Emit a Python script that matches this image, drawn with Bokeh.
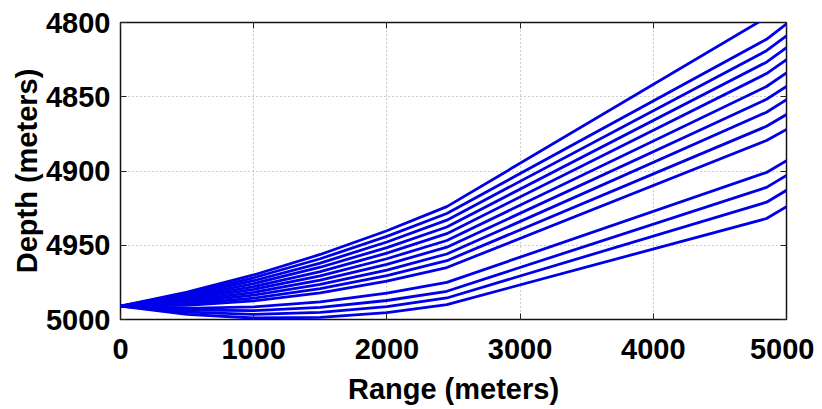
from bokeh.plotting import figure
from bokeh.models import Range1d, FixedTicker, LinearAxis, ColumnDataSource
from bokeh.embed import file_html
from bokeh.resources import INLINE

# Range samples (meters)
ranges = [0, 500, 1000, 1500, 2000, 2450, 4850, 5000]

# Upward-launched rays (depth, meters)
up0 = [4991, 4981.6, 4970.0, 4956.2, 4940.2, 4924.0, 4796.6, 4785.4]
up1 = [4991, 4982.6, 4971.9, 4959.1, 4944.0, 4928.6, 4811.3, 4801.0]
up2 = [4991, 4983.6, 4973.9, 4962.0, 4947.8, 4933.1, 4819.0, 4809.0]
up3 = [4991, 4984.6, 4975.8, 4964.8, 4951.6, 4937.7, 4826.7, 4817.0]
up4 = [4991, 4985.5, 4977.8, 4967.7, 4955.3, 4942.2, 4834.4, 4825.0]
up5 = [4991, 4986.5, 4979.7, 4970.6, 4959.1, 4946.8, 4843.1, 4834.0]
up6 = [4991, 4987.5, 4981.7, 4973.5, 4962.9, 4951.3, 4851.7, 4843.0]
up7 = [4991, 4988.5, 4983.6, 4976.3, 4966.7, 4955.9, 4860.4, 4852.0]
up8 = [4991, 4989.5, 4985.6, 4979.2, 4970.4, 4960.4, 4869.9, 4862.0]
up9 = [4991, 4990.5, 4987.5, 4982.1, 4974.2, 4965.0, 4879.5, 4872.0]

# Downward-launched rays (depth, meters)
dn0 = [4991, 4992.5, 4991.5, 4988.1, 4982.3, 4975.0, 4901.0, 4893.0]
dn1 = [4991, 4993.7, 4994.0, 4991.8, 4987.2, 4981.0, 4911.0, 4903.0]
dn2 = [4991, 4995.1, 4996.5, 4995.2, 4991.3, 4985.5, 4921.0, 4913.0]
dn3 = [4991, 4996.5, 4999.0, 4998.6, 4995.4, 4990.0, 4932.0, 4924.0]

x_ticks = [0, 1000, 2000, 3000, 4000, 5000]
y_ticks = [4800, 4850, 4900, 4950, 5000]

rays = [up0, up1, up2, up3, up4, up5, up6, up7, up8, up9, dn0, dn1, dn2, dn3]
src = ColumnDataSource(data=dict(xs=[ranges] * len(rays), ys=rays))

FONT = "Liberation Sans"

p = figure(width=814, height=407, output_backend="svg", toolbar_location=None,
           x_range=Range1d(0, 5000), y_range=Range1d(5000, 4800),
           min_border_left=120, min_border_right=28, min_border_top=22,
           min_border_bottom=85, background_fill_color="white",
           border_fill_color="white")

p.multi_line(xs="xs", ys="ys", source=src, line_color="#0000e8", line_width=2.8)

p.outline_line_color="#111111"
p.outline_line_width=1.5

for ax, tk in ((p.xaxis[0], x_ticks), (p.yaxis[0], y_ticks)):
    ax.ticker = FixedTicker(ticks=tk)
    ax.major_tick_in = 6
    ax.major_tick_out = 0
    ax.minor_tick_line_color = None
    ax.axis_line_color = None
    ax.major_tick_line_color = "#222222"
    ax.major_label_text_font = FONT
    ax.major_label_text_font_style = "bold"
    ax.major_label_text_font_size = "29px"
    ax.major_label_text_color = "black"
    ax.axis_label_text_font = FONT
    ax.axis_label_text_font_style = "bold"
    ax.axis_label_text_font_size = "29px"
    ax.axis_label_text_color = "black"

p.xaxis.axis_label = "Range (meters)"
p.yaxis.axis_label = "Depth (meters)"
p.xaxis.major_label_standoff = 19
p.yaxis.major_label_standoff = 10
p.xaxis.axis_label_standoff = 11
p.yaxis.axis_label_standoff = 0

for loc, tk in (("above", x_ticks), ("right", y_ticks)):
    a = LinearAxis(ticker=FixedTicker(ticks=tk))
    a.major_tick_in = 6
    a.major_tick_out = 0
    a.minor_tick_line_color = None
    a.axis_line_color = None
    a.major_tick_line_color = "#222222"
    a.major_label_text_font_size = "1px"
    a.major_label_text_alpha = 0
    a.major_label_standoff = 0
    p.add_layout(a, loc)

for g in (p.xgrid[0], p.ygrid[0]):
    g.grid_line_color = "#9a9a9a"
    g.grid_line_dash = "1 3"
    g.grid_line_width = 1
p.xgrid[0].ticker = FixedTicker(ticks=x_ticks)
p.ygrid[0].ticker = FixedTicker(ticks=y_ticks)

open("out.html", "w").write(file_html(p, INLINE))
